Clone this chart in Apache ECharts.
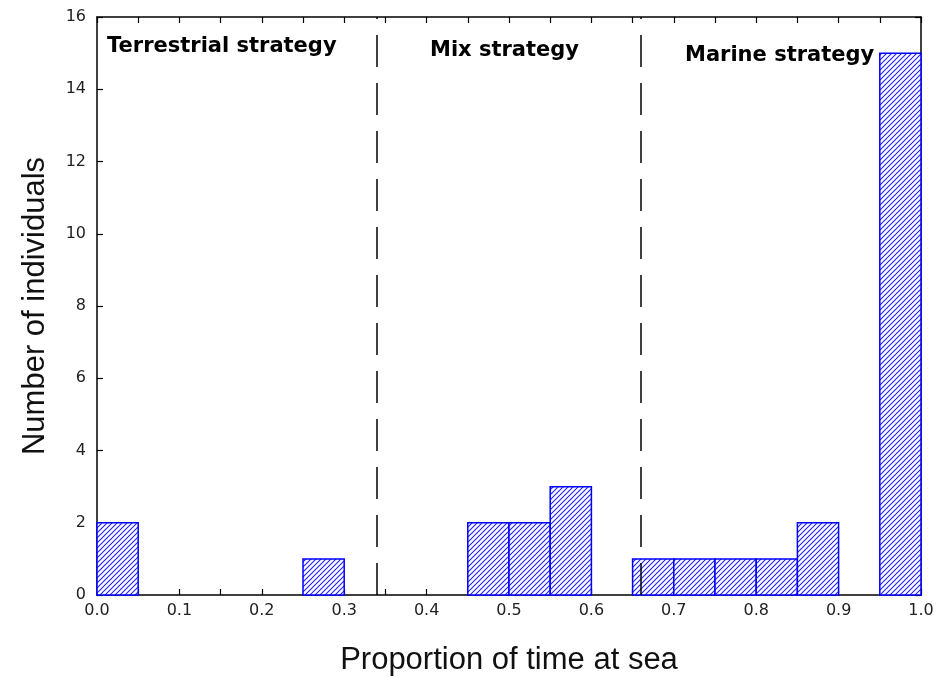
<!DOCTYPE html>
<html><head><meta charset="utf-8">
<script src="https://cdn.jsdelivr.net/npm/echarts@6/dist/echarts.min.js"></script>
<style>html,body{margin:0;padding:0;background:#fff}#c{width:938px;height:681px}</style>
</head><body><div id="c"></div>
<script>
const binStarts = [0.00, 0.25, 0.45, 0.50, 0.55, 0.65, 0.70, 0.75, 0.80, 0.85, 0.95];
const binWidth = 0.05;
const counts = [2, 1, 2, 2, 3, 1, 1, 1, 1, 2, 15];
const dividers = [0.34, 0.66];
const xTicks = [0.0, 0.1, 0.2, 0.3, 0.4, 0.5, 0.6, 0.7, 0.8, 0.9, 1.0];
const yTicks = [0, 2, 4, 6, 8, 10, 12, 14, 16];
const strategyLabels = ['Terrestrial strategy', 'Mix strategy', 'Marine strategy'];
const xName = 'Proportion of time at sea';
const yName = 'Number of individuals';

const data = binStarts.map((s, i) => [s, s + binWidth, counts[i]]);

function hatch() {
  const c = document.createElement('canvas');
  const n = 5;
  c.width = n; c.height = n;
  const g = c.getContext('2d');
  g.fillStyle = '#ffffff'; g.fillRect(0, 0, n, n);
  g.strokeStyle = '#2020ff'; g.lineWidth = 1.1;
  g.beginPath();
  g.moveTo(-1, n + 1); g.lineTo(n + 1, -1);
  g.moveTo(-1, 1); g.lineTo(1, -1);
  g.moveTo(n - 1, n + 1); g.lineTo(n + 1, n - 1);
  g.stroke();
  return c;
}
const pat = { image: hatch(), repeat: 'repeat' };

const chart = echarts.init(document.getElementById('c'));
const tickLbl = { fontFamily: 'DejaVu Sans', fontSize: 16, color: '#222' };
const nameStyle = { fontFamily: 'Liberation Sans, Arial', fontSize: 31, color: '#111' };
const axLine = { show: true, onZero: false, lineStyle: { color: '#000', width: 1.5 } };
const axTick = { show: true, inside: true, length: 6, lineStyle: { color: '#000', width: 1.2 } };
chart.setOption({
  animation: false,
  grid: { left: 97, right: 17, top: 17, bottom: 86 },
  xAxis: [
    { type: 'value', min: 0, max: 1, interval: 0.05,
      axisLine: axLine, axisTick: axTick,
      axisLabel: Object.assign({ margin: 8,
        formatter: v => { const r = Math.round(v * 100); return r % 10 === 0 ? (r / 100).toFixed(1) : ''; } }, tickLbl),
      splitLine: { show: false },
      name: xName, nameLocation: 'middle', nameGap: 50, nameTextStyle: nameStyle },
    { type: 'value', min: 0, max: 1, interval: 0.05, position: 'top',
      axisLine: axLine, axisTick: axTick,
      axisLabel: { show: false }, splitLine: { show: false } }
  ],
  yAxis: [
    { type: 'value', min: 0, max: 16, interval: 2,
      axisLine: axLine, axisTick: axTick,
      axisLabel: Object.assign({ margin: 11 }, tickLbl),
      splitLine: { show: false },
      name: yName, nameLocation: 'middle', nameGap: 46, nameRotate: 90, nameTextStyle: nameStyle },
    { type: 'value', min: 0, max: 16, interval: 2, position: 'right',
      axisLine: axLine, axisTick: axTick,
      axisLabel: { show: false }, splitLine: { show: false } }
  ],
  series: [
    { type: 'custom', xAxisIndex: 0, yAxisIndex: 0, data: data,
      renderItem: function (params, api) {
        const p0 = api.coord([api.value(0), api.value(2)]);
        const p1 = api.coord([api.value(1), 0]);
        return { type: 'rect',
          shape: { x: p0[0], y: p0[1], width: p1[0] - p0[0], height: p1[1] - p0[1] },
          style: { fill: pat, stroke: '#0000ff', lineWidth: 1.5 } };
      },
      z: 2 },
    { type: 'line', data: [], xAxisIndex: 0, yAxisIndex: 0,
      markLine: { silent: true, symbol: 'none', label: { show: false },
        lineStyle: { color: '#000', type: [32, 16], width: 1.5 },
        data: dividers.map(d => ({ xAxis: d })) }, z: 3 },
    { type: 'line', data: [[0, 0]], xAxisIndex: 1, yAxisIndex: 1, symbol: 'none', lineStyle: { opacity: 0 }, silent: true }
  ],
  graphic: [
    { type: 'text', left: 107, top: 36, style: { text: strategyLabels[0], font: 'bold 21px DejaVu Sans', fill: '#000' } },
    { type: 'text', left: 430, top: 40, style: { text: strategyLabels[1], font: 'bold 21px DejaVu Sans', fill: '#000' } },
    { type: 'text', left: 685, top: 45, style: { text: strategyLabels[2], font: 'bold 21px DejaVu Sans', fill: '#000' } }
  ]
});
</script></body></html>
